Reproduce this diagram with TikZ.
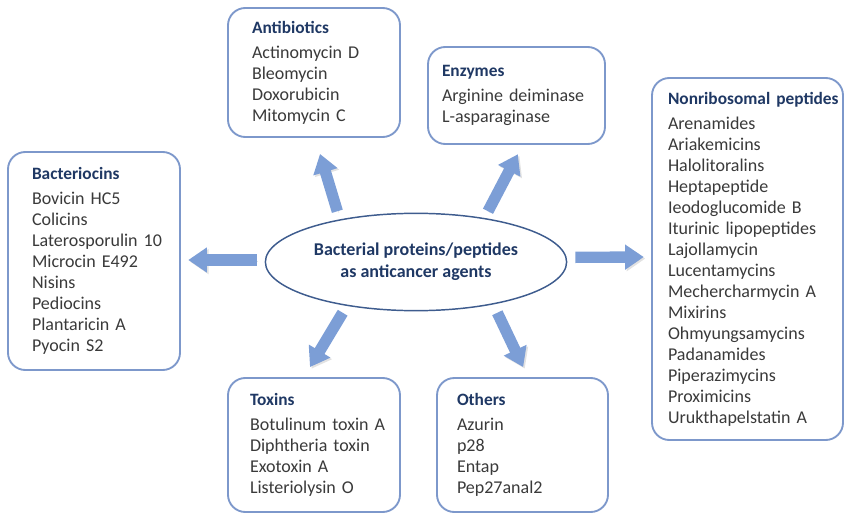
\documentclass[tikz,border=0pt]{standalone}
\usepackage{fontspec}
\setmainfont{Carlito}
\usepackage{xcolor}
\usepackage{tikz}
\usetikzlibrary{arrows.meta,shapes.geometric,positioning}

\definecolor{boxline}{HTML}{7D98CB}
\definecolor{hubline}{HTML}{3E5C8E}
\definecolor{arrowblue}{HTML}{7C9ED6}
\definecolor{headblue}{HTML}{1F3864}
\definecolor{itemgray}{HTML}{3A3A3A}

\newcommand{\head}[1]{\mbox{\fontsize{13}{15.75}\selectfont\bfseries\color{headblue}#1}\\[3pt]}

\begin{document}
\begin{tikzpicture}[
  x=0.75pt, y=-0.75pt,
  catbox/.style={draw=boxline, line width=1.4pt, rounded corners=13pt, fill=white,
                 align=left, inner xsep=0pt, text=itemgray,
                 font=\fontsize{13.5}{15.75}\selectfont},
  hub/.style={ellipse, draw=hubline, line width=1.1pt, minimum width=219pt,
              minimum height=73pt, align=center, text=headblue,
              font=\fontsize{13.5}{16.5}\selectfont\bfseries},
  fatarr/.style={draw=arrowblue, line width=8.5pt, -{Triangle[length=14pt,width=18pt]},
                 preaction={draw=black!45, opacity=0.25,
                            transform canvas={shift={(1.2pt,-1.2pt)}}}}
]
\useasboundingbox (0,0) rectangle (847,514);

% Centre
\node[hub] (hub) at (416,262) {Bacterial proteins/peptides\\as anticancer agents};

% Boxes
\node[catbox, text width=129pt, minimum height=96.75pt] (abx) at (314,72.5)
  {\leftskip=18pt\head{Antibiotics}Actinomycin D\\Bleomycin\\Doxorubicin\\Mitomycin C\par};
\node[catbox, text width=132.75pt, minimum height=72.75pt] (enz) at (516.5,95.5)
  {\leftskip=10.5pt\head{Enzymes}Arginine deiminase\\L-asparaginase\par};
\node[catbox, text width=143.25pt, minimum height=271.5pt] (nrp) at (747.5,259)
  {\leftskip=12pt\head{Nonribosomal peptides}Arenamides\\Ariakemicins\\Halolitoralins\\Heptapeptide\\Ieodoglucomide B\\Iturinic lipopeptides\\Lajollamycin\\Lucentamycins\\Mechercharmycin A\\Mixirins\\Ohmyungsamycins\\Padanamides\\Piperazimycins\\Proximicins\\Urukthapelstatin A\par};
\node[catbox, text width=129pt, minimum height=163.5pt] (bac) at (94,261)
  {\leftskip=18pt\head{Bacteriocins}Bovicin HC5\\Colicins\\Laterosporulin 10\\Microcin E492\\Nisins\\Pediocins\\Plantaricin A\\Pyocin S2\par};
\node[catbox, text width=129pt, minimum height=100.5pt] (tox) at (314,445)
  {\leftskip=16.5pt\head{Toxins}Botulinum toxin A\\Diphtheria toxin\\Exotoxin A\\Listeriolysin O\par};
\node[catbox, text width=128.25pt, minimum height=100.5pt] (oth) at (522.5,445)
  {\leftskip=15pt\head{Others}Azurin\\p28\\Entap\\Pep27anal2\par};

% Arrows
\draw[fatarr] ([xshift=-59pt,yshift=1pt]hub.north) -- ([xshift=4.5pt,yshift=-12pt]abx.south);
\draw[fatarr] ([xshift=54pt,yshift=1pt]hub.north)  -- ([xshift=1pt,yshift=-7pt]enz.south);
\draw[fatarr] ([xshift=-6pt,yshift=1.5pt]hub.west) -- ([xshift=5.5pt,yshift=0.75pt]bac.east);
\draw[fatarr] ([xshift=6pt,yshift=3.5pt]hub.east)  -- ([xshift=-5.5pt,yshift=1.5pt]nrp.west);
\draw[fatarr] ([xshift=-55pt,yshift=-1pt]hub.south) -- ([xshift=-3pt,yshift=7.5pt]tox.north);
\draw[fatarr] ([xshift=61pt,yshift=-1pt]hub.south)  -- ([xshift=0.5pt,yshift=7.5pt]oth.north);

\end{tikzpicture}
\end{document}
